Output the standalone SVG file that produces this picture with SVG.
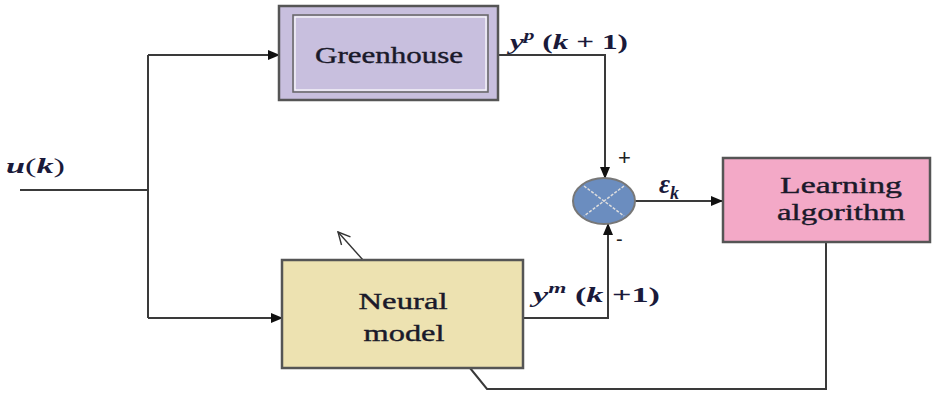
<svg xmlns="http://www.w3.org/2000/svg" width="937" height="394" viewBox="0 0 937 394">
<defs>
<marker id="ah" markerWidth="12" markerHeight="10" refX="11" refY="5" orient="auto" markerUnits="userSpaceOnUse">
<path d="M0,0 L12,5 L0,10 Z" fill="#111"/>
</marker>
<marker id="open" markerWidth="14" markerHeight="14" refX="13" refY="7" orient="auto" markerUnits="userSpaceOnUse">
<path d="M1,1 L13,7 L1,13" fill="none" stroke="#333" stroke-width="1.4"/>
</marker>
</defs>
<style>
.ln{fill:none;stroke:#3a3a3a;stroke-width:2}
.box{stroke:#555;stroke-width:2.5}
.t{font-family:"Liberation Serif","DejaVu Serif","Times New Roman",serif;font-size:24px;font-weight:normal;fill:#1a1a2a;text-anchor:middle;stroke:#1a1a2a;stroke-width:0.4}
.m{font-family:"Liberation Serif","DejaVu Serif","Times New Roman",serif;font-style:italic;font-weight:bold;font-size:22px;fill:#1a1a3a}
.s{font-family:"Liberation Sans","DejaVu Sans",sans-serif;fill:#222}
</style>
<rect width="937" height="394" fill="#fff"/>
<g id="connectors">
<line class="ln" x1="20" y1="190" x2="148" y2="190"/>
<line class="ln" x1="148" y1="55" x2="148" y2="318"/>
<line class="ln" x1="148" y1="55" x2="279" y2="55" marker-end="url(#ah)"/>
<line class="ln" x1="148" y1="318" x2="282" y2="318" marker-end="url(#ah)"/>
<polyline class="ln" points="498,55 605,55 605,178" marker-end="url(#ah)"/>
<polyline class="ln" points="523,318 608,318 608,224" marker-end="url(#ah)"/>
<line class="ln" x1="635" y1="201" x2="722" y2="201" marker-end="url(#ah)"/>
<polyline class="ln" points="826,242 826,389 487,389 470,368"/>
<line x1="363" y1="260" x2="338" y2="232" stroke="#333" stroke-width="1.4" marker-end="url(#open)"/>
</g>
<g id="greenhouse">
<rect class="box" x="279" y="6" width="219" height="94" fill="#c8bfde"/>
<rect x="293" y="15" width="195" height="77" fill="none" stroke="#666" stroke-width="1.5"/>
<rect x="295" y="17" width="191" height="73" fill="none" stroke="#fff" stroke-width="1.2"/>
<text class="t" x="389" y="63" textLength="148" lengthAdjust="spacingAndGlyphs">Greenhouse</text>
</g>
<g id="sum">
<ellipse cx="604" cy="201" rx="31" ry="23" fill="#6b8dbf" stroke="#777" stroke-width="2"/>
<line x1="584" y1="186" x2="624" y2="216" stroke="#ddd" stroke-width="1.5" stroke-dasharray="3,1.5"/>
<line x1="624" y1="186" x2="584" y2="216" stroke="#ddd" stroke-width="1.5" stroke-dasharray="3,1.5"/>
<text class="s" x="618" y="165" font-size="22">+</text>
<text class="s" x="616" y="246" font-size="20">-</text>
</g>
<g id="learning">
<rect class="box" x="723" y="158" width="207" height="84" fill="#f3a9c7"/>
<text class="t" x="841" y="193" textLength="122" lengthAdjust="spacingAndGlyphs">Learning</text>
<text class="t" x="841" y="220" textLength="128" lengthAdjust="spacingAndGlyphs">algorithm</text>
</g>
<g id="neural">
<rect class="box" x="282" y="260" width="241" height="108" fill="#ede2b1"/>
<text class="t" x="403" y="309" textLength="89" lengthAdjust="spacingAndGlyphs">Neural</text>
<text class="t" x="404" y="341" textLength="81" lengthAdjust="spacingAndGlyphs">model</text>
</g>
<g id="labels">
<text class="m" x="6" y="173" textLength="59" lengthAdjust="spacingAndGlyphs">u<tspan font-weight="normal" font-style="normal">(</tspan>k<tspan font-weight="normal" font-style="normal">)</tspan></text>
<text class="m" x="510" y="49" textLength="118" lengthAdjust="spacingAndGlyphs">y<tspan font-size="15" dy="-9">p</tspan><tspan dy="9" font-style="normal"> (</tspan>k<tspan font-style="normal"> + 1)</tspan></text>
<text class="m" x="533" y="302" textLength="127" lengthAdjust="spacingAndGlyphs">y<tspan font-size="15" dy="-9">m</tspan><tspan dy="9" font-style="normal"> (</tspan>k<tspan font-style="normal"> +1)</tspan></text>
<text class="m" x="659" y="193" style="font-size:27px">ε<tspan style="font-size:18px" dy="6">k</tspan></text>
</g>
</svg>
